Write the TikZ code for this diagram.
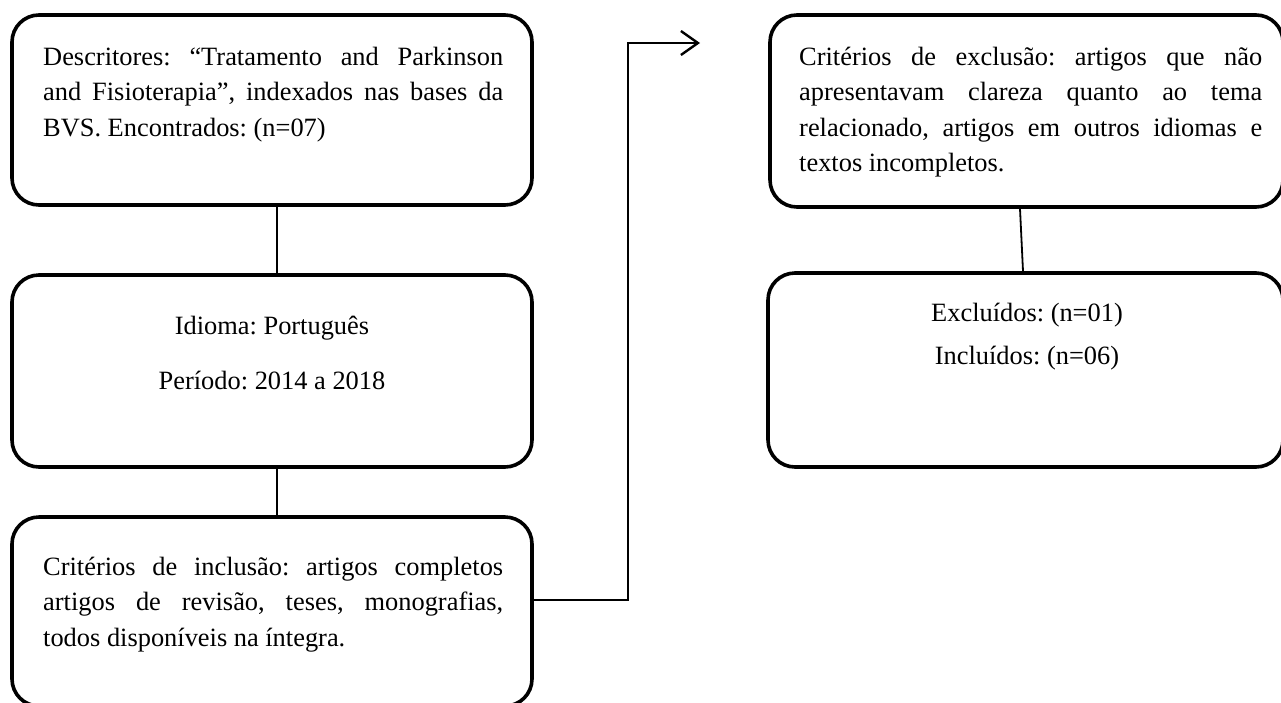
\documentclass[tikz,border=0pt]{standalone}
\usepackage{fontspec}
\setmainfont{Liberation Serif}
\frenchspacing
\usetikzlibrary{arrows.meta,calc}
\tikzset{
  boxnode/.style={draw, line width=3.6pt, rounded corners=27pt, inner sep=0pt},
  txt/.style={inner sep=0pt, font=\fontsize{26.4}{35.5}\selectfont\frenchspacing},
  jtxt/.style={txt, align=justify, anchor=base west},
  ctxt/.style={txt, align=flush center, anchor=base, text width=440pt},
  link/.style={line width=1.8pt},
  arrowlink/.style={line width=2.4pt, -{Straight Barb[length=17pt,width=24pt,line width=2.4pt]}}
}
\begin{document}
\begin{tikzpicture}[x=1pt,y=-1pt]
\useasboundingbox (0,0) rectangle (1281,702);
\clip (0,0) rectangle (1281,702);
% boxes
\node[boxnode, minimum width=520pt, minimum height=190pt] (b1) at (272,110) {};
\node[boxnode, minimum width=520pt, minimum height=192pt] (b2) at (272,371) {};
\node[boxnode, minimum width=520pt, minimum height=189pt] (b3) at (272,611.5) {};
\node[boxnode, minimum width=513pt, minimum height=192pt] (b4) at (1026.5,111) {};
\node[boxnode, minimum width=515pt, minimum height=194pt] (b5) at (1025.5,370) {};
% texts
\node[jtxt, text width=460pt] (t1) at (43,65) {Descritores: “Tratamento and Parkinson\linebreak and Fisioterapia”, indexados nas bases da\linebreak BVS. Encontrados: (n=07)};
\node[ctxt] (t2) at (272,334) {Idioma: Português\\[20pt]Período: 2014 a 2018};
\node[jtxt, text width=460pt] (t3) at (43,575) {Critérios de inclusão: artigos completos\linebreak artigos de revisão, teses, monografias,\linebreak todos disponíveis na íntegra.};
\node[jtxt, text width=463pt] (t4) at (799,65) {Critérios de exclusão: artigos que não\linebreak apresentavam clareza quanto ao tema\linebreak relacionado, artigos em outros idiomas e\linebreak textos incompletos.};
\node[ctxt] (t5) at (1027,321) {Excluídos: (n=01)\\[7.5pt]Incluídos: (n=06)};
% connectors
\draw[link] (b1.south -| 277,0) -- (b2.north -| 277,0);
\draw[link] (b2.south -| 277,0) -- (b3.north -| 277,0);
\coordinate (c4) at (1020,0);
\coordinate (c5) at (1023,0);
\draw[link] (b4.south -| c4) -- (b5.north -| c5);
\coordinate (bend1) at (628,600);
\coordinate (tip) at (700,43);
\draw[arrowlink] (b3.east |- bend1) -- (bend1) -- (bend1 |- tip) -- (tip);
\end{tikzpicture}
\end{document}
